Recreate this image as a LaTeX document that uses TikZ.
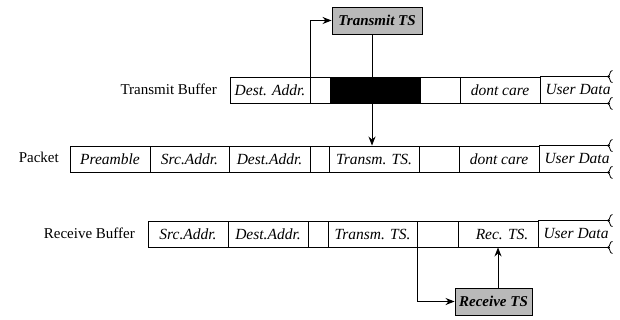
\documentclass[tikz,border=0pt]{standalone}
\usepackage{fontspec}
\setmainfont{Liberation Serif}
\usetikzlibrary{arrows.meta}
\begin{document}
\begin{tikzpicture}[x=1pt,y=-1pt,
  cell/.style={draw, line width=0.9pt, inner sep=0pt, minimum height=26pt, font=\fontsize{15.5}{17}\selectfont\itshape},
  opencell/.style={inner sep=0pt, font=\fontsize{15.5}{17}\selectfont\itshape},
  lbl/.style={inner sep=0pt, font=\fontsize{15}{17}\selectfont},
  tsbox/.style={draw, line width=0.9pt, fill=gray!55, inner sep=0pt, minimum height=27pt, font=\fontsize{15}{17}\selectfont\bfseries\itshape},
  conn/.style={line width=0.9pt},
  arr/.style={conn, -{Stealth[length=9pt,width=7pt]}},
  endmark/.pic={\draw[line width=0.8pt] (2.5,-6) .. controls (-1,-6) and (1,-1) .. (-2.5,0) .. controls (1,1) and (-1,6) .. (2.5,6);}]
\useasboundingbox (0,0) rectangle (620,320);
\coordinate (tend) at (610,0);

% labels
\node[lbl, anchor=east] (lt) at (217,89) {Transmit Buffer};
\node[lbl, anchor=east] (lp) at (59,157) {Packet};
\node[lbl, anchor=east] (lr) at (135,233) {Receive Buffer};

% Transmit buffer row
\node[cell, minimum width=80pt] (tda) at (270,90) {Dest. Addr.};
\node[cell, minimum width=20pt] (te1) at (320,90) {};
\node[cell, minimum width=90pt, fill=black] (tblk) at (375,90) {};
\node[cell, minimum width=40pt] (te2) at (440,90) {};
\node[cell, minimum width=80pt] (tdc) at (500,90) {dont care};
\node[opencell] (tud) at (578,90) {User Data};
\draw[conn] (tdc.north east) -- (tdc.north east -| tend) pic{endmark};
\draw[conn] (tdc.south east) -- (tdc.south east -| tend) pic{endmark};

% Packet row
\node[cell, minimum width=80pt] (pp) at (110,159) {Preamble};
\node[cell, minimum width=79pt] (ps) at (189.5,159) {Src.Addr.};
\node[cell, minimum width=81pt] (pd) at (269.5,159) {Dest.Addr.};
\node[cell, minimum width=19pt] (pe1) at (319.5,159) {};
\node[cell, minimum width=90pt] (pts) at (374,159) {Transm. TS.};
\node[cell, minimum width=40pt] (pe2) at (439,159) {};
\node[cell, minimum width=80pt] (pdc) at (499,159) {dont care};
\node[opencell] (pud) at (577,159) {User Data};
\draw[conn] (pdc.north east) -- (pdc.north east -| tend) pic{endmark};
\draw[conn] (pdc.south east) -- (pdc.south east -| tend) pic{endmark};

% Receive buffer row
\node[cell, minimum width=80pt] (rs) at (188,234) {Src.Addr.};
\node[cell, minimum width=80pt] (rd) at (268,234) {Dest.Addr.};
\node[cell, minimum width=20pt] (re1) at (318,234) {};
\node[cell, minimum width=89pt] (rts) at (372.5,234) {Transm. TS.};
\node[cell, minimum width=41pt] (re2) at (437.5,234) {};
\node[cell, minimum width=80pt] (rrts) at (498,234) {\hspace*{8pt}Rec. TS.};
\node[opencell] (rud) at (576,234) {User Data};
\draw[conn] (rrts.north east) -- (rrts.north east -| tend) pic{endmark};
\draw[conn] (rrts.south east) -- (rrts.south east -| tend) pic{endmark};

% timestamp boxes
\node[tsbox, minimum width=90pt] (tts) at (377,20.5) {Transmit TS};
\node[tsbox, minimum width=77pt] (rtsb) at (493.5,301.5) {Receive TS};

% connectors
\coordinate (tx) at (372,0);
\draw[arr] (tda.north east) -- (tda.north east |- tts.west) -- (tts.west);
\draw[arr] (tts.south -| tx) -- (pts.north -| tx);
\draw[arr] (rts.south east) -- (rts.south east |- rtsb.west) -- (rtsb.west);
\draw[arr] (rtsb.north -| rrts.south) -- (rrts.south);
\end{tikzpicture}
\end{document}
